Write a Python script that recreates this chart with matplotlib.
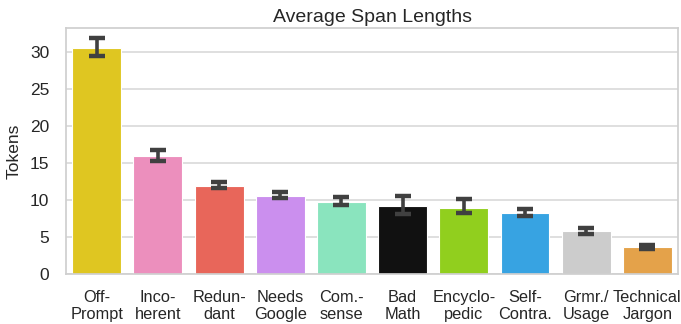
import numpy as np
import matplotlib.pyplot as plt
import seaborn as sns

# average span length per error type, with error bar bounds
categories = ['Off-\nPrompt', 'Inco-\nherent', 'Redun-\ndant', 'Needs\nGoogle', 'Com.-\nsense',
              'Bad\nMath', 'Encyclo-\npedic', 'Self-\nContra.', 'Grmr./\nUsage', 'Technical\nJargon']
means = [30.5, 15.9, 11.95, 10.6, 9.8, 9.2, 8.95, 8.25, 5.8, 3.65]
err_low = [29.5, 15.25, 11.7, 10.25, 9.3, 8.1, 8.2, 7.9, 5.5, 3.45]
err_high = [31.8, 16.8, 12.45, 11.05, 10.45, 10.55, 10.1, 8.8, 6.3, 4.0]
colors = ['#DFC621', '#EC8FBD', '#E8665A', '#CB8FEE', '#8AE4BE',
          '#111111', '#91CF1E', '#37A3E2', '#CCCCCC', '#E4A24A']

sns.set_theme(style='whitegrid')
plt.rcParams['font.family'] = ['Liberation Sans', 'DejaVu Sans']

fig, ax = plt.subplots(figsize=(6.81, 3.24), dpi=100)
fig.subplots_adjust(left=0.097, right=0.9956, top=0.9145, bottom=0.1534)

x = np.arange(len(categories))
means_arr = np.array(means)
yerr = [means_arr - np.array(err_low), np.array(err_high) - means_arr]

ax.bar(x, means, width=0.8, color=colors, edgecolor='white', linewidth=0.8, zorder=2)
eb = ax.errorbar(x, means, yerr=yerr, fmt='none', ecolor='#404040', elinewidth=2.6,
                 capsize=5.8, capthick=3.2, zorder=3)
for cap in eb.lines[1]:
    cap.set_solid_capstyle('round')
    cap.set_dash_capstyle('round')
for col in eb.lines[2]:
    col.set_capstyle('round')

ax.set_xlim(-0.5, len(categories) - 0.5)
ax.set_ylim(0, 33.25)
ax.set_yticks([0, 5, 10, 15, 20, 25, 30])
ax.set_xticks(x)
ax.set_xticklabels(categories, fontsize=11.8, linespacing=1.2)
ax.tick_params(axis='y', labelsize=12.5, pad=6)
ax.tick_params(axis='x', pad=5)
ax.set_ylabel('Tokens', fontsize=12.5, labelpad=6)
ax.set_title('Average Span Lengths', fontsize=14, pad=4)
ax.grid(axis='x', visible=False)
ax.grid(axis='y', color='#d6d6d6', linewidth=1.1)
for s in ax.spines.values():
    s.set_color('#cfcfcf')

plt.savefig('out.png', dpi=100)
